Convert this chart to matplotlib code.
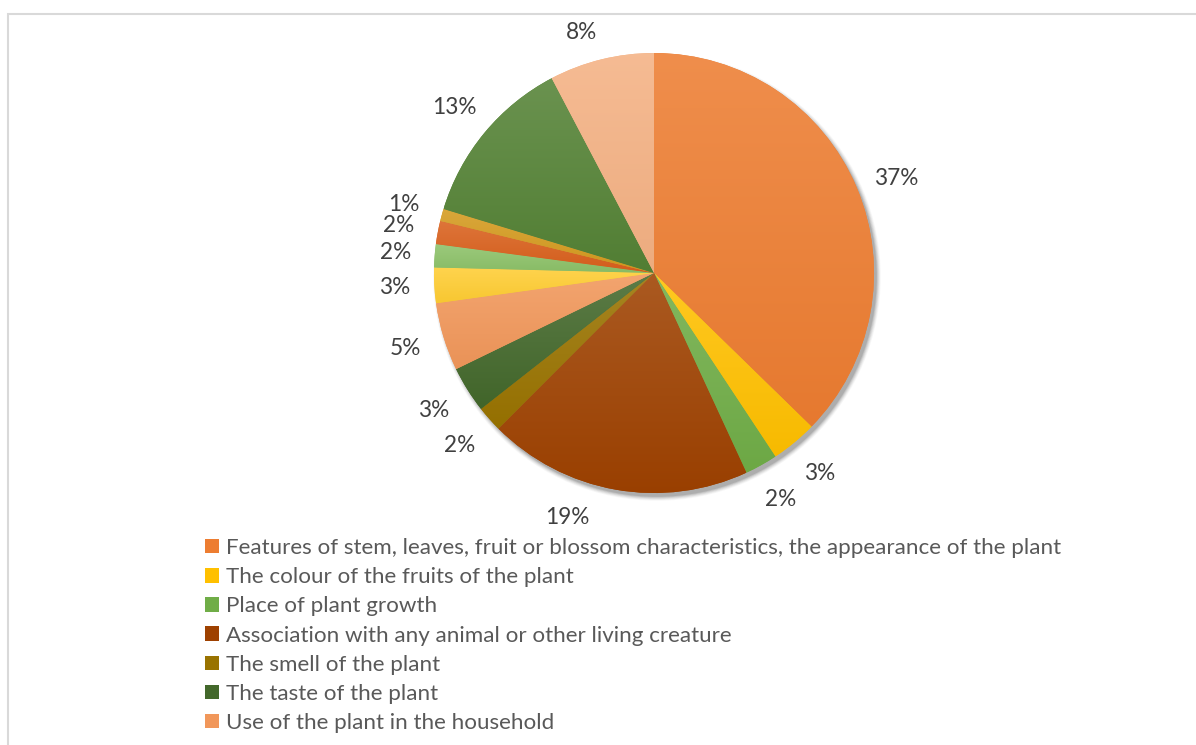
import numpy as np
import matplotlib
matplotlib.use("Agg")
import matplotlib.pyplot as plt
from matplotlib.patches import Circle, Rectangle
from matplotlib.colors import to_rgb

# ---- data ----
categories = [
    "Features of stem, leaves, fruit or blossom characteristics, the appearance of the plant",
    "The colour of the fruits of the plant",
    "Place of plant growth",
    "Association with any animal or other living creature",
    "The smell of the plant",
    "The taste of the plant",
    "Use of the plant in the household",
    "Category 8", "Category 9", "Category 10", "Category 11", "Category 12", "Category 13",
]
shares = [37.3, 3.4, 2.4, 19.4, 1.9, 3.4, 5.0, 2.6, 1.7, 1.7, 0.9, 12.6, 7.7]
colors = ['#ED7D31', '#FFC000', '#70AD47', '#9E4100', '#997300', '#43682B', '#F1975A',
          '#FFCD33', '#8CC168', '#D9601C', '#D49A1E', '#548235', '#F4B183']
legend_count = 7  # entries visible in the reference

plt.rcParams['font.family'] = ['Lato', 'DejaVu Sans']

W, H = 1196, 745
fig = plt.figure(figsize=(W / 100, H / 100), dpi=100)
ax = fig.add_axes([0, 0, 1, 1])

cx, cy, R = 654, H - 273, 220

# soft shadow
for k, a in zip(range(6, 0, -1), [0.03, 0.04, 0.05, 0.06, 0.08, 0.10]):
    ax.add_patch(Circle((cx + 3, cy - 4), R + k * 0.8 - 1, fc='#000000', ec='none', alpha=a, zorder=1))

wedges, texts, autotexts = ax.pie(
    shares, colors=colors, center=(cx, cy), radius=R, startangle=90, counterclock=False,
    autopct='%1.0f%%', pctdistance=1.18, frame=True,
    wedgeprops=dict(linewidth=0, zorder=2),
    textprops=dict(color='#404040', fontsize=16.3),
)
ax.set_xlim(0, W)
ax.set_ylim(0, H)
ax.set_aspect('equal')
ax.axis('off')

# chart border
ax.add_patch(Rectangle((7.5, -10), W, H - 13.5 + 10, fill=False, ec='#D9D9D9', lw=1.5, zorder=0))

# label placement tweaks (angle shift in degrees clockwise, radial factor)
label_shift = {0: 1.5, 3: 9.5, 12: -3.0}
label_rad = {12: 1.14}
total = sum(shares)
cum = 0
for i, s in enumerate(shares):
    mid = (cum + s / 2) / total * 360 + label_shift.get(i, 0)
    cum += s
    r = label_rad.get(i, 1.18) * R
    autotexts[i].set_position((cx + r * np.sin(np.radians(mid)), cy + r * np.cos(np.radians(mid))))
    autotexts[i].set_ha('center')
    autotexts[i].set_va('center')


def mix(c, t, f):
    c = np.array(to_rgb(c)); t = np.array(to_rgb(t))
    return c * (1 - f) + t * f

# vertical gradient in each wedge
for w, c in zip(wedges, colors):
    verts = w.get_patch_transform().transform(w.get_path().vertices)
    x0, x1 = verts[:, 0].min(), verts[:, 0].max()
    y0, y1 = verts[:, 1].min(), verts[:, 1].max()
    top = mix(c, 'white', 0.13)
    bot = mix(c, 'black', 0.03)
    t = np.linspace(0, 1, 64)[:, None]
    grad = top[None, :] * (1 - t) + bot[None, :] * t
    img = np.repeat(grad[:, None, :], 2, axis=1)
    im = ax.imshow(img, extent=[x0, x1, y0, y1], origin='upper', aspect='auto', zorder=2.5,
                   interpolation='bilinear')
    im.set_clip_path(w)

ax.set_xlim(0, W)
ax.set_ylim(0, H)

leg = ax.legend(wedges[:legend_count], categories[:legend_count], loc='upper left',
                bbox_to_anchor=(205, H - 538), bbox_transform=ax.transData,
                frameon=False, fontsize=16.1, labelcolor='#595959',
                handlelength=0.62, handleheight=0.62, handletextpad=0.3,
                labelspacing=0.41, borderpad=0, borderaxespad=0)

fig.savefig('out.png', dpi=100)
